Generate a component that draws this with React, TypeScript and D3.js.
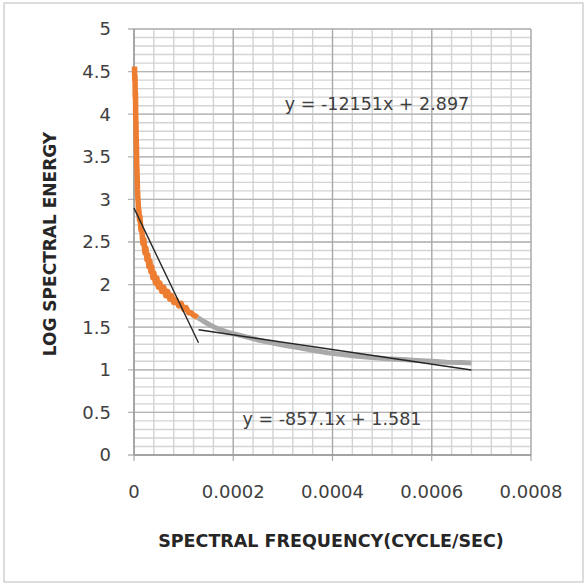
import React from "react";
import * as d3 from "d3";

// ---- data ----
const orangeFreq = [1, 1.5, 2, 2.5, 3, 3.5, 4, 4.5, 5, 5.5, 6, 7, 8, 9, 10, 11, 12, 14, 16, 18, 20, 22, 24, 26, 28, 30, 32, 34, 36, 38, 40, 43, 46, 49, 52, 56, 60, 64, 68, 72, 76, 80, 85, 90, 95, 100, 105, 110, 115, 120, 124, 128].map((v) => v * 1e-6);
const orangeEnergy = [4.56, 4.4, 4.45, 4.2, 4.25, 3.95, 3.9, 3.7, 3.6, 3.4, 3.35, 3.12, 3.0, 2.9, 2.86, 2.76, 2.8, 2.64, 2.62, 2.48, 2.53, 2.37, 2.43, 2.29, 2.35, 2.21, 2.28, 2.15, 2.21, 2.08, 2.14, 2.02, 2.08, 1.97, 2.02, 1.92, 1.97, 1.87, 1.92, 1.83, 1.87, 1.79, 1.82, 1.75, 1.78, 1.71, 1.73, 1.67, 1.67, 1.64, 1.63, 1.615];

const grayFreq = [128, 140, 155, 170, 190, 210, 230, 250, 275, 300, 330, 360, 390, 420, 450, 480, 510, 540, 570, 600, 630, 660, 680].map((v) => v * 1e-6);
const grayEnergy = [1.615, 1.57, 1.52, 1.48, 1.44, 1.41, 1.38, 1.35, 1.32, 1.29, 1.26, 1.23, 1.2, 1.18, 1.16, 1.145, 1.13, 1.12, 1.11, 1.1, 1.09, 1.085, 1.08];

// trend lines: slope, intercept, x-range
const trendSlopes = [-12151, -857.1];
const trendIntercepts = [2.897, 1.581];
const trendStarts = [0, 0.00013];
const trendEnds = [0.00013, 0.00068];
const trendLabels = ["y = -12151x + 2.897", "y = -857.1x + 1.581"];

const xTicks = [0, 0.0002, 0.0004, 0.0006, 0.0008];
const xTickLabels = ["0", "0.0002", "0.0004", "0.0006", "0.0008"];
const yTicks = [0, 0.5, 1, 1.5, 2, 2.5, 3, 3.5, 4, 4.5, 5];
const yTickLabels = ["0", "0.5", "1", "1.5", "2", "2.5", "3", "3.5", "4", "4.5", "5"];

export default function App() {
  const W = 587, H = 586;
  const left = 134, right = 531, top = 29, bottom = 455;
  const x = d3.scaleLinear().domain([0, 0.0008]).range([left, right]);
  const y = d3.scaleLinear().domain([0, 5]).range([bottom, top]);

  const xMinor = d3.range(0, 0.0008 + 1e-9, 0.00004);
  const yMinor = d3.range(0, 5 + 1e-9, 0.1);

  const line = d3.line<[number, number]>().x((d) => x(d[0])).y((d) => y(d[1]));
  const orange = line(orangeFreq.map((f, i) => [f, orangeEnergy[i]]));
  const gray = line(grayFreq.map((f, i) => [f, grayEnergy[i]]));

  const font = "'DejaVu Sans', sans-serif";

  return (
    <svg width={W} height={H} style={{ position: "absolute", left: 0, top: 0, background: "#fff" }}>
      <rect x={4} y={3} width={579} height={579} fill="#fff" stroke="#c6c6c6" strokeWidth={1.2} />
      {/* minor grid */}
      {yMinor.map((v, i) => (
        <line key={"ym" + i} x1={left} x2={right} y1={y(v)} y2={y(v)} stroke="#d3d3d3" strokeWidth={1.4} />
      ))}
      {xMinor.map((v, i) => (
        <line key={"xm" + i} x1={x(v)} x2={x(v)} y1={top} y2={bottom} stroke="#d3d3d3" strokeWidth={1.4} />
      ))}
      {/* major grid */}
      {yTicks.map((v, i) => (
        <line key={"yM" + i} x1={left - 6} x2={right} y1={y(v)} y2={y(v)} stroke="#b4b4b4" strokeWidth={1.3} />
      ))}
      {xTicks.map((v, i) => (
        <line key={"xM" + i} x1={x(v)} x2={x(v)} y1={top} y2={bottom + 6} stroke="#a8a8a8" strokeWidth={1.2} />
      ))}
      {/* axes */}
      <line x1={left} x2={left} y1={top} y2={bottom} stroke="#9a9a9a" strokeWidth={1.3} />
      <line x1={left} x2={right} y1={bottom} y2={bottom} stroke="#9a9a9a" strokeWidth={1.3} />

      {/* series */}
      <path d={gray || ""} fill="none" stroke="#a9a9a9" strokeWidth={5} strokeLinejoin="round" />
      <path d={orange || ""} fill="none" stroke="#ed7d31" strokeWidth={5.5} strokeLinejoin="round" />

      {/* trend lines */}
      {trendSlopes.map((m, i) => (
        <line key={"t" + i}
          x1={x(trendStarts[i])} y1={y(m * trendStarts[i] + trendIntercepts[i])}
          x2={x(trendEnds[i])} y2={y(m * trendEnds[i] + trendIntercepts[i])}
          stroke="#262626" strokeWidth={1.4} />
      ))}

      {/* equations */}
      <text x={377} y={110} textAnchor="middle" fontFamily={font} fontSize={17.5} fill="#404040">{trendLabels[0]}</text>
      <text x={332} y={425} textAnchor="middle" fontFamily={font} fontSize={17.5} fill="#404040">{trendLabels[1]}</text>

      {/* tick labels */}
      {yTicks.map((v, i) => (
        <text key={"yl" + i} x={111} y={y(v)} dy="0.36em" textAnchor="end" fontFamily={font} fontSize={18} fill="#404040">{yTickLabels[i]}</text>
      ))}
      {xTicks.map((v, i) => (
        <text key={"xl" + i} x={x(v)} y={498} textAnchor="middle" fontFamily={font} fontSize={18} fill="#404040">{xTickLabels[i]}</text>
      ))}

      {/* axis titles */}
      <text transform="translate(56,244) rotate(-90)" textAnchor="middle" fontFamily={font} fontWeight="bold" fontSize={17} fill="#262626">LOG SPECTRAL ENERGY</text>
      <text x={331} y={547} textAnchor="middle" fontFamily={font} fontWeight="bold" fontSize={17.5} fill="#262626">SPECTRAL FREQUENCY(CYCLE/SEC)</text>
    </svg>
  );
}
